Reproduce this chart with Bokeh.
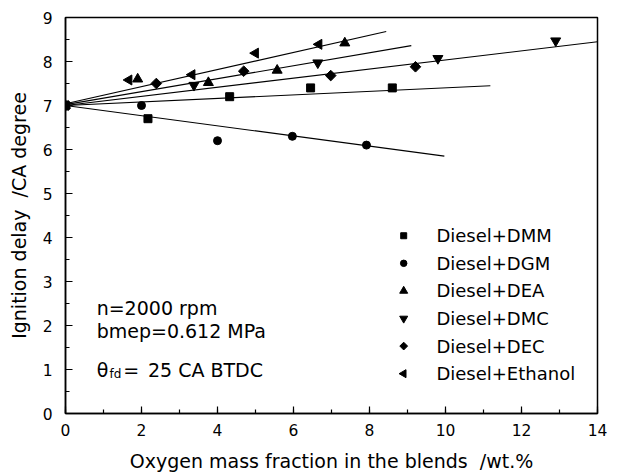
import math

from bokeh.plotting import figure
from bokeh.models import Range1d, SingleIntervalTicker, Label, ColumnDataSource
from bokeh.embed import file_html
from bokeh.resources import INLINE

# Oxygen mass fraction (wt.%) and ignition delay (CA degree) per blend
dmm_x = [0.0, 2.17, 4.32, 6.45, 8.6]
dmm_y = [7.0, 6.7, 7.2, 7.4, 7.4]

dgm_x = [0.0, 2.0, 4.0, 5.97, 7.92]
dgm_y = [7.0, 7.0, 6.2, 6.3, 6.1]

dea_x = [0.0, 1.9, 3.76, 5.57, 7.35]
dea_y = [7.0, 7.6, 7.52, 7.8, 8.42]

dmc_x = [0.0, 3.38, 6.64, 9.8, 12.9]
dmc_y = [7.0, 7.46, 7.97, 8.07, 8.47]

dec_x = [0.0, 2.39, 4.69, 6.98, 9.21]
dec_y = [7.0, 7.5, 7.78, 7.68, 7.88]

eth_x = [0.0, 1.67, 3.33, 5.0, 6.67]
eth_y = [7.0, 7.58, 7.7, 8.19, 8.39]

# Linear trend lines (start and end points)
fit_x0 = [0.0, 0.0, 0.0, 0.0, 0.0]
fit_y0 = [7.04, 7.02, 7.0, 7.0, 7.0]
fit_x1 = [8.44, 9.1, 14.0, 11.18, 9.97]
fit_y1 = [8.68, 8.36, 8.45, 7.45, 5.85]

FONT = "DejaVu Sans"
NB = "\u00a0"

p = figure(width=617, height=475, output_backend="svg", toolbar_location=None,
           x_range=Range1d(0, 14), y_range=Range1d(0, 9),
           min_border_left=65, min_border_right=20,
           min_border_top=17, min_border_bottom=62)

p.xgrid.visible = False
p.ygrid.visible = False
p.outline_line_color = "black"
p.outline_line_width = 1.5
p.outline_line_alpha = 1.0
p.background_fill_color = "white"
p.border_fill_color = "white"

p.xaxis.ticker = SingleIntervalTicker(interval=2, num_minor_ticks=2)
p.yaxis.ticker = SingleIntervalTicker(interval=1, num_minor_ticks=2)

for ax in (p.xaxis[0], p.yaxis[0]):
    ax.axis_line_width = 1.5
    ax.axis_line_color = "black"
    ax.major_tick_in = 7
    ax.major_tick_out = 0
    ax.minor_tick_in = 4
    ax.minor_tick_out = 0
    ax.major_tick_line_width = 1.2
    ax.minor_tick_line_width = 1.2
    ax.major_label_text_font = FONT
    ax.major_label_text_font_size = "15.5px"
    ax.major_label_text_color = "black"
    ax.axis_label_text_font = FONT
    ax.axis_label_text_font_size = "19px"
    ax.axis_label_text_font_style = "normal"
    ax.axis_label_text_color = "black"

p.xaxis.axis_label = f"Oxygen mass fraction in the blends{NB}{NB}/wt.%"
p.yaxis.axis_label = f"Ignition delay{NB}{NB}/CA degree"
p.xaxis.major_label_standoff = 10
p.yaxis.major_label_standoff = 13
p.xaxis.axis_label_standoff = 11
p.yaxis.axis_label_standoff = 10

# Trend lines
p.segment(x0=fit_x0, y0=fit_y0, x1=fit_x1, y1=fit_y1,
          line_color="black", line_width=1.1)

# name, data, marker, angle, plot size, key size
series = [
    ("Diesel+DMM", dmm_x, dmm_y, "square", 0.0, 8, 6),
    ("Diesel+DGM", dgm_x, dgm_y, "circle", 0.0, 8, 6.5),
    ("Diesel+DEA", dea_x, dea_y, "triangle", 0.0, 10, 8),
    ("Diesel+DMC", dmc_x, dmc_y, "inverted_triangle", 0.0, 10, 8),
    ("Diesel+DEC", dec_x, dec_y, "square", math.pi / 4, 7.5, 5.5),
    ("Diesel+Ethanol", eth_x, eth_y, "triangle", math.pi / 2, 10, 8),
]

# Key block on the right: marker column, text column, row pitch (data units)
key_mx, key_tx = 8.9, 9.76
key_top, key_step = 4.04, 0.627

for i, (name, xs, ys, marker, ang, size, ksize) in enumerate(series):
    src = ColumnDataSource(dict(x=xs, y=ys))
    p.scatter("x", "y", source=src, marker=marker, size=size, angle=ang,
              fill_color="black", line_color="black")
    ky = key_top - i * key_step
    p.scatter(x=[key_mx], y=[ky], marker=marker, size=ksize, angle=ang,
              fill_color="black", line_color="black")
    p.add_layout(Label(x=key_tx, y=ky, text=name,
                       text_font=FONT, text_font_size="18px",
                       text_color="black", text_baseline="alphabetic"))

# Operating conditions
note_style = dict(text_font=FONT, text_font_size="19px", text_color="black",
                  text_baseline="alphabetic", text_align="left")
p.add_layout(Label(x=0.82, y=2.39, text="n=2000 rpm", **note_style))
p.add_layout(Label(x=0.82, y=1.88, text="bmep=0.612 MPa", **note_style))
p.add_layout(Label(x=0.82, y=1.0, text="\u03b8", **note_style))
p.add_layout(Label(x=1.16, y=0.9, text="fd", text_font=FONT,
                   text_font_size="12px", text_color="black",
                   text_baseline="alphabetic", text_align="left"))
p.add_layout(Label(x=1.52, y=1.0, text="=", **note_style))
p.add_layout(Label(x=2.17, y=1.0, text="25 CA BTDC", **note_style))

open("out.html", "w").write(file_html(p, INLINE))
